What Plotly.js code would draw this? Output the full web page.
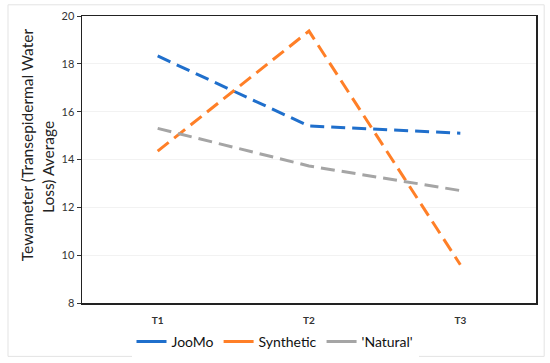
<!DOCTYPE html>
<html><head><meta charset="utf-8">
<script src="https://cdn.plot.ly/plotly-3.0.1.min.js"></script>
<style>html,body{margin:0;padding:0;background:#fff}#c{width:550px;height:363px}</style>
</head><body><div id="c"></div>
<script>
const categories = ["T1", "T2", "T3"];
const joomo = [18.33, 15.40, 15.10];
const synthetic = [14.35, 19.37, 9.60];
const natural = [15.30, 13.73, 12.70];
const seriesNames = ["JooMo", "Synthetic", "'Natural'"];
const yTicks = [8, 10, 12, 14, 16, 18, 20];
const yTitleLines = ["Tewameter (Transepidermal Water", "Loss) Average"];

const colors = ["#1f6fcc", "#ff7f27", "#a5a5a5"];
const data = [joomo, synthetic, natural].map((v, i) => ({
  x: categories, y: v, name: seriesNames[i], type: "scatter", mode: "lines",
  showlegend: false,
  line: {color: colors[i], width: 3, dash: "14px,7px"}
}));
// legend entries (solid swatches as in the reference)
seriesNames.forEach((n, i) => data.push({
  x: [null], y: [null], name: n, type: "scatter", mode: "lines",
  line: {color: colors[i], width: 3}
}));

const layout = {
  width: 550, height: 363,
  margin: {l: 82, r: 14, t: 16, b: 60, autoexpand: false},
  paper_bgcolor: "#fff", plot_bgcolor: "#fff",
  font: {family: "Lato, sans-serif", color: "#222"},
  showlegend: true,
  legend: {orientation: "h", x: 0.5, xanchor: "center", xref: "container",
    y: 0.058, yanchor: "middle", yref: "container",
    font: {size: 14, color: "#111"}, itemwidth: 30, traceorder: "normal", tracegroupgap: 0},
  xaxis: {type: "category", range: [-0.5, 2.5], showgrid: false, showline: true,
    linecolor: "#222", linewidth: 1.5, mirror: true, ticks: "", ticklabelstandoff: 7,
    tickfont: {size: 10, color: "#333", weight: "bold"}, fixedrange: true},
  yaxis: {range: [8, 20], tickvals: yTicks, showgrid: true, gridcolor: "#f2f2f2",
    showline: true, linecolor: "#222", linewidth: 1.5, mirror: true, ticks: "outside",
    ticklen: 4, tickcolor: "#333", tickfont: {size: 11, color: "#333"}, zeroline: false},
  annotations: [
    {text: yTitleLines[0], xref: "paper", yref: "paper", x: -0.121, y: 0.55, xanchor: "center", yanchor: "middle",
      textangle: -90, showarrow: false, font: {size: 15.5, color: "#222"}},
    {text: yTitleLines[1], xref: "paper", yref: "paper", x: -0.075, y: 0.474, xanchor: "center", yanchor: "middle",
      textangle: -90, showarrow: false, font: {size: 15.5, color: "#222"}}
  ],
  shapes: [{type: "rect", xref: "paper", yref: "paper", x0: -0.163, x1: 1.018, y0: -0.186, y1: 1.039,
    line: {color: "#e3e3e3", width: 1}}]
};
Plotly.newPlot("c", data, layout, {displayModeBar: false, staticPlot: true});
</script></body></html>
